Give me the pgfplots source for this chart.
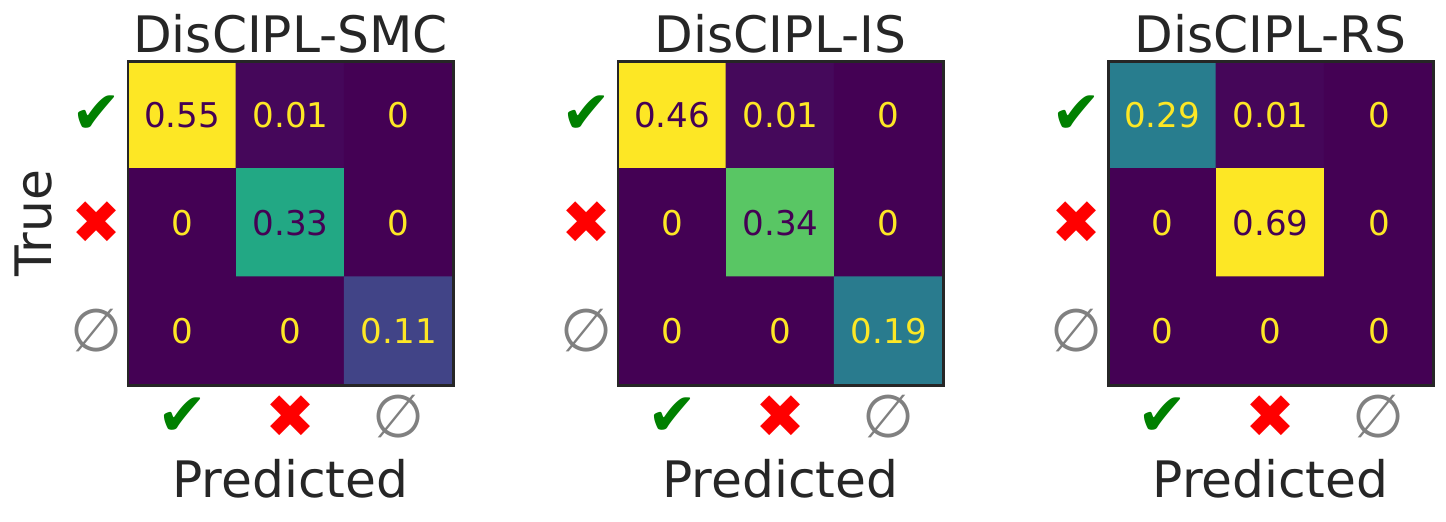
\documentclass[border=0pt]{standalone}
\usepackage{fontspec}
\setmainfont{DejaVu Sans}
\usepackage{pgfplots}
\pgfplotsset{compat=1.18}

\definecolor{txt}{HTML}{262626}
\definecolor{vlow}{HTML}{440154}
\definecolor{vhigh}{HTML}{FDE725}
\definecolor{okgreen}{HTML}{008000}
\definecolor{nagray}{HTML}{808080}

\newcommand{\yes}{{\color{okgreen}✔}}
\newcommand{\no}{{\color{red}✖}}
\newcommand{\none}{{\color{nagray}∅}}

\pgfplotsset{
  colormap={vir}{rgb255=(68,1,84) rgb255=(72,36,117) rgb255=(65,68,135)
    rgb255=(53,95,141) rgb255=(42,120,142) rgb255=(33,145,140)
    rgb255=(34,168,132) rgb255=(68,191,112) rgb255=(122,209,81)
    rgb255=(189,223,38) rgb255=(253,231,37)},
  cm/.style={
    scale only axis, width=3.25cm, height=3.24cm,
    anchor=south west,
    xmin=-0.5, xmax=2.5, ymin=-0.5, ymax=2.5, y dir=reverse,
    xtick={0,1,2}, ytick={0,1,2},
    xticklabels={\yes,\no,\none}, yticklabels={\yes,\no,\none},
    major tick length=0pt,
    tick label style={font=\fontsize{17}{19}\selectfont},
    xticklabel style={anchor=center, yshift=-0.32cm},
    yticklabel style={anchor=center, xshift=-0.31cm},
    axis line style={draw=txt, line width=0.85pt},
    axis on top,
    colormap name=vir,
    point meta min=0,
    title style={at={(axis description cs:0.5,1)}, anchor=base,
      yshift=-0.13cm, font=\fontsize{14.3}{16}\selectfont, text=txt},
    xlabel={Predicted},
    xlabel style={at={(axis description cs:0.5,0)}, anchor=base,
      yshift=-1.12cm, font=\fontsize{14.3}{16}\selectfont, text=txt},
  },
  vals/.style={draw=none, mark=none, nodes near coords,
    point meta=explicit symbolic,
    every node near coord/.append style={anchor=center,
      font=\fontsize{9.7}{11}\selectfont, text=#1}},
}

\begin{document}
\begin{tikzpicture}

% DisCIPL-SMC
\begin{axis}[cm, at={(1.28cm,1.36cm)}, point meta max=0.55,
  title={DisCIPL-SMC}, ylabel={True},
  ylabel style={at={(axis description cs:0,0.5)}, anchor=base,
    yshift=0.76cm, font=\fontsize{14.3}{16}\selectfont, text=txt}]
\addplot[matrix plot*, mesh/cols=3, point meta=explicit] coordinates {
  (0,0) [0.55] (1,0) [0.01] (2,0) [0]
  (0,1) [0]    (1,1) [0.33] (2,1) [0]
  (0,2) [0]    (1,2) [0]    (2,2) [0.11]
};
\addplot[vals=vlow] coordinates {(0,0) [0.55] (1,1) [0.33]};
\addplot[vals=vhigh] coordinates {
  (1,0) [0.01] (2,0) [0] (0,1) [0] (2,1) [0]
  (0,2) [0] (1,2) [0] (2,2) [0.11]
};
\end{axis}

% DisCIPL-IS
\begin{axis}[cm, at={(6.18cm,1.36cm)}, point meta max=0.46,
  title={DisCIPL-IS}]
\addplot[matrix plot*, mesh/cols=3, point meta=explicit] coordinates {
  (0,0) [0.46] (1,0) [0.01] (2,0) [0]
  (0,1) [0]    (1,1) [0.34] (2,1) [0]
  (0,2) [0]    (1,2) [0]    (2,2) [0.19]
};
\addplot[vals=vlow] coordinates {(0,0) [0.46] (1,1) [0.34]};
\addplot[vals=vhigh] coordinates {
  (1,0) [0.01] (2,0) [0] (0,1) [0] (2,1) [0]
  (0,2) [0] (1,2) [0] (2,2) [0.19]
};
\end{axis}

% DisCIPL-RS
\begin{axis}[cm, at={(11.08cm,1.36cm)}, point meta max=0.69,
  title={DisCIPL-RS}]
\addplot[matrix plot*, mesh/cols=3, point meta=explicit] coordinates {
  (0,0) [0.29] (1,0) [0.01] (2,0) [0]
  (0,1) [0]    (1,1) [0.69] (2,1) [0]
  (0,2) [0]    (1,2) [0]    (2,2) [0]
};
\addplot[vals=vlow] coordinates {(1,1) [0.69]};
\addplot[vals=vhigh] coordinates {
  (0,0) [0.29] (1,0) [0.01] (2,0) [0] (0,1) [0] (2,1) [0]
  (0,2) [0] (1,2) [0] (2,2) [0]
};
\end{axis}

\pgfresetboundingbox
\path (0,0) rectangle (14.46,5.21);
\end{tikzpicture}
\end{document}
